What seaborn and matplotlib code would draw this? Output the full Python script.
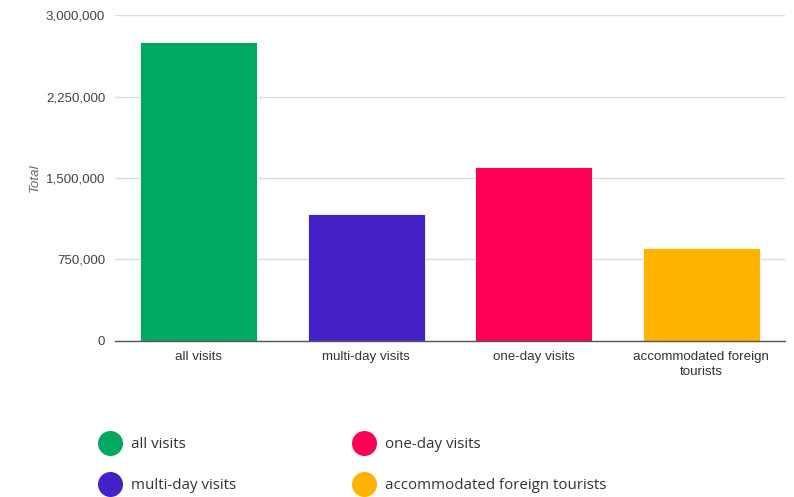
import matplotlib.pyplot as plt
import pandas as pd
import seaborn as sns
from matplotlib.lines import Line2D
from matplotlib.ticker import FuncFormatter

categories = ['all visits', 'multi-day visits', 'one-day visits', 'accommodated foreign tourists']
tick_labels = ['all visits', 'multi-day visits', 'one-day visits', 'accommodated foreign\ntourists']
totals = [2750000, 1165000, 1598000, 852000]
colors = ['#00a862', '#4521c8', '#ff0055', '#ffb400']

data = pd.DataFrame({'category': categories, 'Total': totals})

sns.set_style('white')
plt.rcParams['font.family'] = ['Liberation Sans', 'DejaVu Sans']

fig = plt.figure(figsize=(7.94, 4.97), dpi=100)
ax = fig.add_axes([0.1448, 0.3139, 0.8439, 0.6559])

sns.barplot(data=data, x='category', y='Total', hue='category',
            palette=colors, width=0.70, saturation=1, legend=False, ax=ax)
for bar in ax.patches:
    bar.set_edgecolor('white')
    bar.set_linewidth(0.6)

ax.set_ylim(0, 3000000)
ax.set_xlim(-0.5, 3.5)
ax.set_yticks([0, 750000, 1500000, 2250000, 3000000])
ax.yaxis.set_major_formatter(FuncFormatter(lambda v, p: f'{int(v):,}'))
ax.grid(axis='y', color='#dddddd', linewidth=1)
ax.set_axisbelow(True)
for s in ['top', 'right', 'left']:
    ax.spines[s].set_visible(False)
ax.spines['bottom'].set_color('#555555')
ax.spines['bottom'].set_linewidth(1)
ax.set_xticks(range(len(tick_labels)))
ax.set_xticklabels(tick_labels, fontsize=9.6, color='#333333', linespacing=1.35)
ax.tick_params(axis='y', labelsize=9.6, colors='#444444', length=0, pad=7)
ax.tick_params(axis='x', length=0, pad=7)
ax.set_xlabel('')
ax.set_ylabel('Total', fontsize=9.6, style='italic', color='#666666', labelpad=4)

handles = [Line2D([], [], marker='o', linestyle='', markersize=17,
                  markerfacecolor=c, markeredgecolor=c) for c in colors]
fig.legend(handles, categories, ncol=2, loc='upper left',
           bbox_to_anchor=(0.11, 0.148), frameon=False,
           prop={'family': ['Open Sans', 'DejaVu Sans'], 'size': 10.9},
           labelcolor='#333333', handletextpad=0.8, columnspacing=7.8,
           labelspacing=1.72, handlelength=1.2)

fig.savefig('out.png', dpi=100)
